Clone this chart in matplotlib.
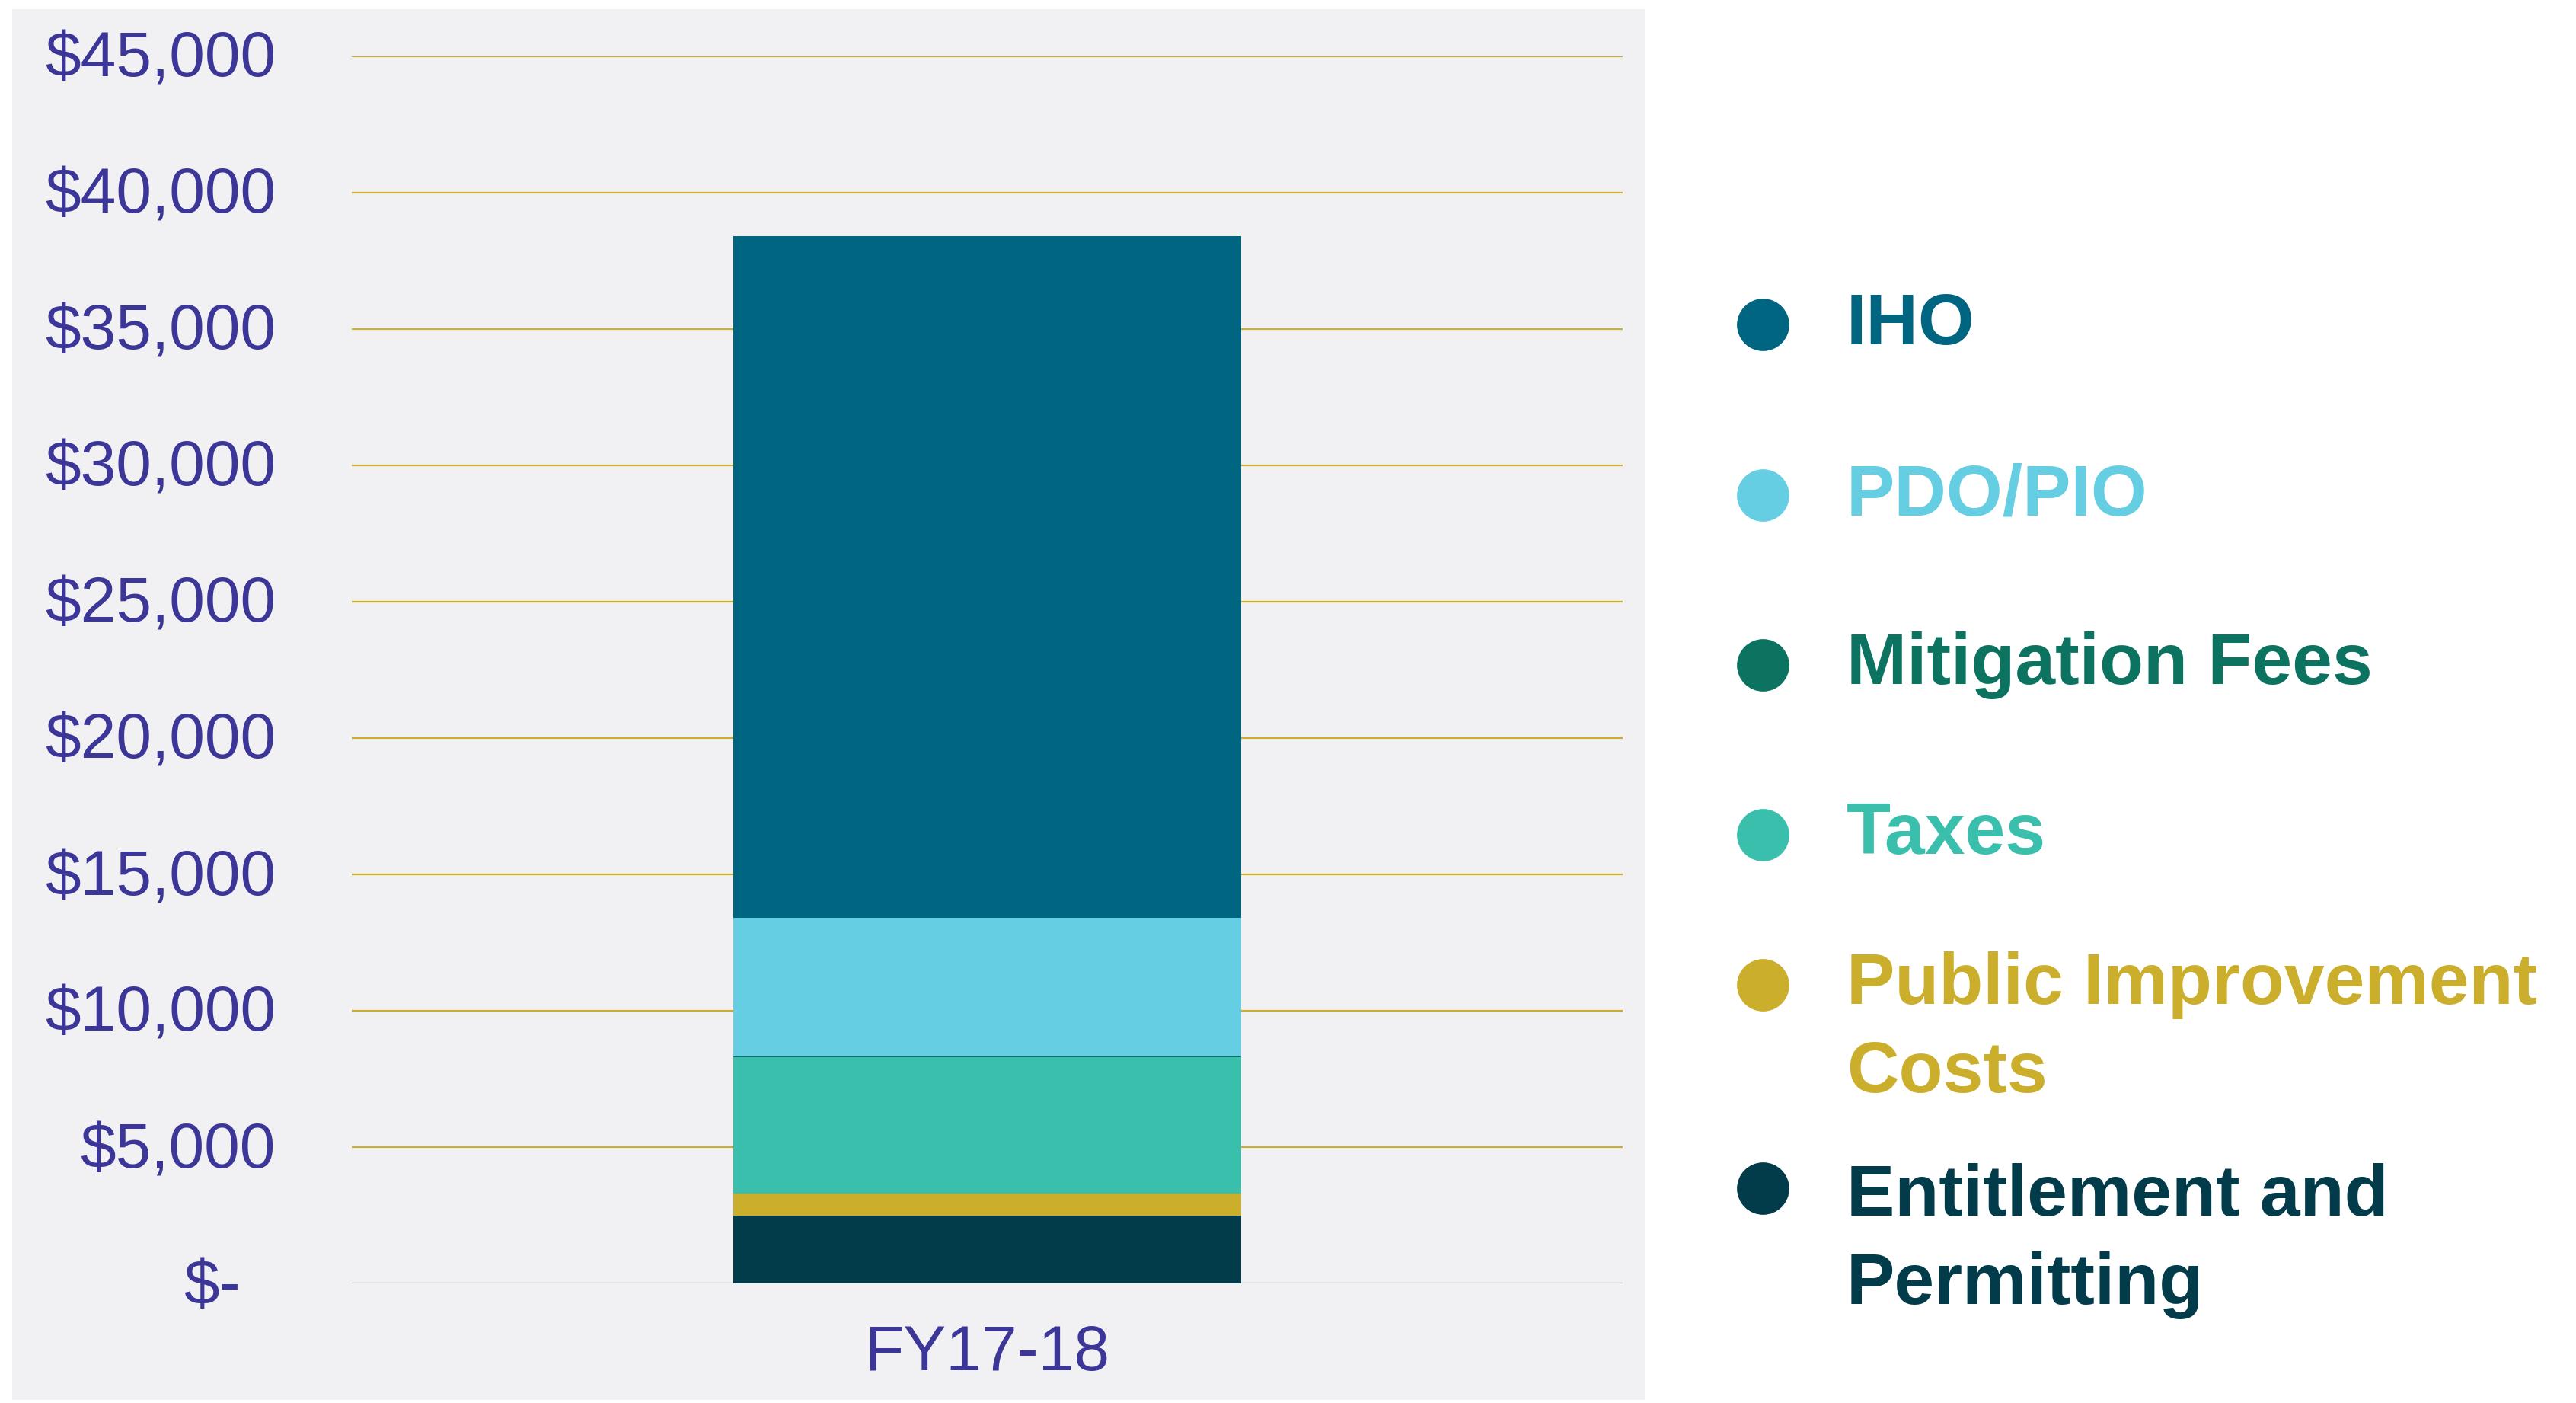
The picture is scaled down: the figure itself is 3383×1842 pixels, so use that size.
import matplotlib
matplotlib.use('Agg')
import matplotlib.pyplot as plt
from matplotlib.patches import Rectangle
from matplotlib.lines import Line2D
from matplotlib.transforms import ScaledTranslation
import numpy as np

plt.rcParams['font.family'] = ['Liberation Sans', 'DejaVu Sans']

# data (bottom of stack first)
years = ['FY17-18']
series = ['Entitlement and\nPermitting', 'Public Improvement\nCosts', 'Taxes',
          'Mitigation Fees', 'PDO/PIO', 'IHO']
values = [2500, 810, 4990, 30, 5070, 25000]
colors = ['#023b4a', '#cbae2b', '#3bbfad', '#0d7361', '#66cee3', '#006580']
yticks = [0, 5000, 10000, 15000, 20000, 25000, 30000, 35000, 40000, 45000]
ytick_labels = ['$-', '$5,000', '$10,000', '$15,000', '$20,000', '$25,000',
                '$30,000', '$35,000', '$40,000', '$45,000']

W, H = 3383, 1842
fig = plt.figure(figsize=(W / 100, H / 100), dpi=100)
fig.patch.set_facecolor('white')

# grey panel behind the plot area
fig.add_artist(Rectangle((16 / W, 1 - 1838 / H), (2160 - 16) / W, (1838 - 12) / H,
                         transform=fig.transFigure, facecolor='#f1f1f3',
                         edgecolor='none', zorder=0))

ax = fig.add_axes([462 / W, 1 - 1685 / H, (2131 - 462) / W, (1685 - 74) / H])
ax.set_facecolor('none')

bottom = 0
for name, v, c in zip(series, values, colors):
    ax.bar(0, v, width=0.4, bottom=bottom, color=c, zorder=3)
    bottom += v

ax.set_xlim(-0.5, 0.5)
ax.set_ylim(0, 45000)
ax.set_xticks([0])
ax.set_xticklabels(years)
ax.set_yticks(yticks)
ax.set_yticklabels(ytick_labels)
ax.tick_params(axis='both', length=0, labelsize=60.5, labelcolor='#3b3698')
ax.tick_params(axis='y', pad=72)
ax.tick_params(axis='x', pad=38)
for s in ax.spines.values():
    s.set_visible(False)
ax.yaxis.grid(True, color='#cbae2b', linewidth=1.6, zorder=1)
ax.set_axisbelow(True)
ax.axhline(0, color='#c9c8e8', linewidth=1.6, zorder=2)

# labels sit a touch higher; "$-" sits further left like in the accounting format
for k, lbl in enumerate(ax.get_yticklabels()):
    dx = -0.46 if k == 0 else 0
    lbl.set_transform(lbl.get_transform() + ScaledTranslation(dx, 0.035, fig.dpi_scale_trans))

# legend drawn by hand, top entry = top of stack
leg_baselines = [452, 676, 898, 1121, 1318, 1596]
leg_markers = [426, 650, 873, 1096, 1293, 1560]
for i, (name, c) in enumerate(zip(series[::-1], colors[::-1])):
    fig.add_artist(Line2D([2315 / W], [1 - leg_markers[i] / H], marker='o',
                          markersize=49.5, color=c, markeredgewidth=0,
                          transform=fig.transFigure))
    for j, line in enumerate(name.split('\n')):
        fig.text(2425 / W, 1 - (leg_baselines[i] + j * 116) / H, line,
                 color=c, fontsize=68.3, fontweight='bold', va='baseline', ha='left')

fig.savefig('out.png', dpi=100)
